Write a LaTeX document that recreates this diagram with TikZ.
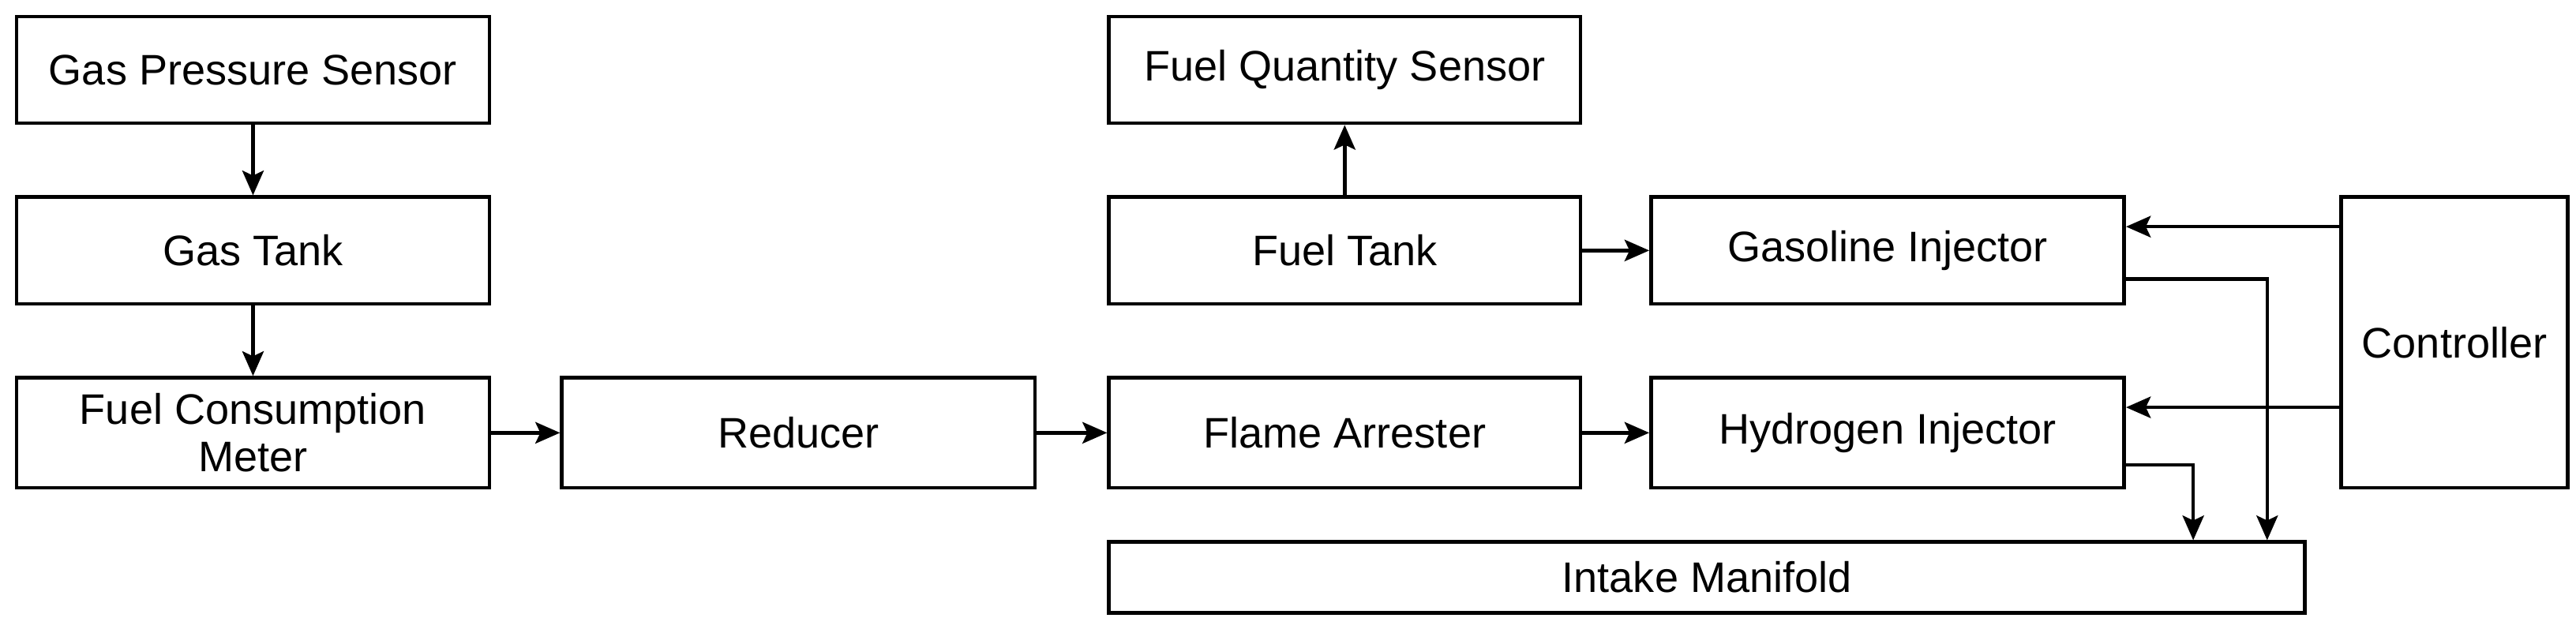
\documentclass[tikz,border=0pt]{standalone}
\usepackage{fontspec}
\setmainfont{Liberation Sans}
\usetikzlibrary{arrows.meta}
\begin{document}
\begin{tikzpicture}[x=1pt,y=-1pt,
  box/.style={draw,line width=2.2pt,inner sep=0pt,font=\fontsize{26}{29}\selectfont,align=center},
  arr/.style={-{Stealth[length=15pt,width=13pt,inset=3pt]},line width=2.2pt}]
\useasboundingbox (0,0) rectangle (1568,385);
\newcommand{\bx}[6]{\node[box,minimum width=#4-#2,minimum height=#5-#3] (#1) at ({(#2+#4)/2},{(#3+#5)/2}) {#6};}
\bx{gps}{10}{10}{298}{75}{Gas Pressure Sensor}
\bx{gt}{10}{120}{298}{185}{Gas Tank}
\bx{fcm}{10}{230}{298}{297}{Fuel Consumption\\Meter}
\bx{red}{342}{230}{630}{297}{Reducer}
\bx{fa}{675}{230}{962}{297}{Flame Arrester}
\bx{hi}{1005}{230}{1293}{297}{Hydrogen Injector}
\bx{fqs}{675}{10}{962}{75}{Fuel Quantity Sensor}
\bx{ft}{675}{120}{962}{185}{Fuel Tank}
\bx{gi}{1005}{120}{1293}{185}{Gasoline Injector}
\bx{ctl}{1425}{120}{1563}{297}{Controller}
\bx{im}{675}{330}{1403}{373}{Intake Manifold}
\draw[arr] (gps) -- (gt);
\draw[arr] (gt) -- (fcm);
\draw[arr] (fcm) -- (red);
\draw[arr] (red) -- (fa);
\draw[arr] (fa) -- (hi);
\draw[arr] (ft) -- (gi);
\draw[arr] (ft) -- (fqs);
\draw[arr] (ctl.west |- 0,138) -- (gi.east |- 0,138);
\draw[arr] (ctl.west |- 0,248) -- (hi.east |- 0,248);
\draw[arr] (hi.east |- 0,283) -| (im.north -| 1335,0);
\draw[arr] (gi.east |- 0,170) -| (im.north -| 1380,0);
\end{tikzpicture}
\end{document}
